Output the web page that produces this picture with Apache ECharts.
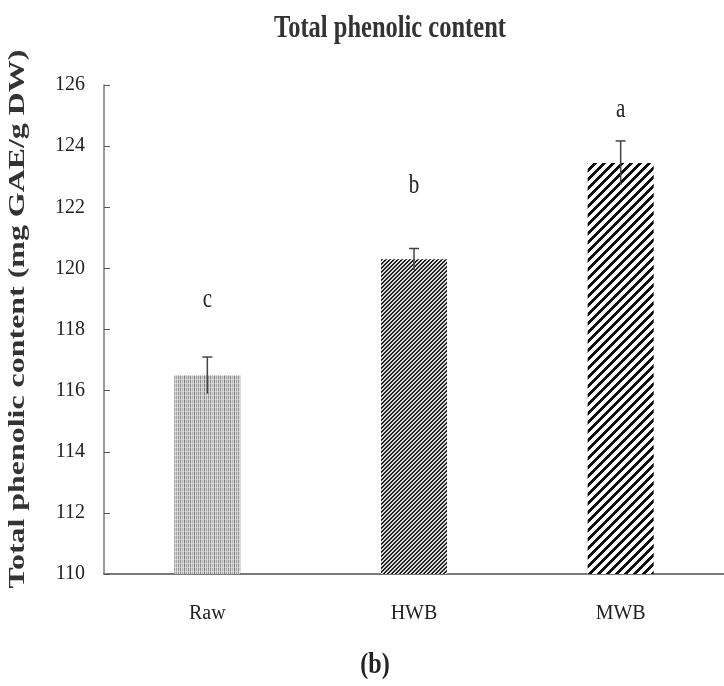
<!DOCTYPE html>
<html>
<head>
<meta charset="utf-8">
<script src="https://cdn.jsdelivr.net/npm/echarts@6/dist/echarts.min.js"></script>
<style>
html,body{margin:0;padding:0;background:#fff;}
#chart{width:724px;height:686px;}
</style>
</head>
<body>
<div id="chart"></div>
<script>
var categories = ['Raw', 'HWB', 'MWB'];
var values = [116.5, 120.3, 123.45];
var errors = [0.6, 0.35, 0.72];
var letters = ['c', 'b', 'a'];
var letterValues = [118.97, 122.7, 125.18];
var yTicks = [110, 112, 114, 116, 118, 120, 122, 124, 126];

var SERIF = '"Liberation Serif","Times New Roman",serif';

function rawPattern() {
  var c = document.createElement('canvas');
  c.width = 10; c.height = 4;
  var g = c.getContext('2d');
  g.fillStyle = '#d6d6d6'; g.fillRect(0, 0, 10, 4);
  var cols = [[0, '#8c8c8c'], [2, '#b4b4b4'], [4, '#7c7c7c'], [6, '#a6a6a6'], [8, '#959595']];
  cols.forEach(function (p) { g.fillStyle = p[1]; g.fillRect(p[0], 0, 1, 4); });
  g.fillStyle = 'rgba(255,255,255,0.35)'; g.fillRect(0, 3, 10, 1);
  return c;
}
// seamless "/" stripes: pixel is dark where (x+y) mod period < dark width
function diagPattern(period, dark, bg, fg) {
  var c = document.createElement('canvas');
  c.width = period; c.height = period;
  var g = c.getContext('2d');
  var img = g.createImageData(period, period);
  for (var y = 0; y < period; y++) {
    for (var x = 0; x < period; x++) {
      var ph = (x + y) % period;
      var t;
      if (ph < dark - 0.5) t = 1;
      else if (ph < dark + 0.5 && dark % 1 !== 0) t = 0.5;
      else t = 0;
      var col = [0, 1, 2].map(function (k) { return Math.round(bg[k] * (1 - t) + fg[k] * t); });
      var o = (y * period + x) * 4;
      img.data[o] = col[0]; img.data[o + 1] = col[1]; img.data[o + 2] = col[2]; img.data[o + 3] = 255;
    }
  }
  g.putImageData(img, 0, 0);
  return c;
}
var patterns = [
  { image: rawPattern(), repeat: 'repeat' },
  { image: diagPattern(4, 2, [220, 220, 220], [34, 34, 34]), repeat: 'repeat' },
  { image: diagPattern(9, 4, [255, 255, 255], [15, 15, 15]), repeat: 'repeat' }
];

var chart = echarts.init(document.getElementById('chart'));
chart.setOption({
  animation: false,
  backgroundColor: '#fff',
  grid: { left: 104, top: 85, width: 620, bottom: 112, containLabel: false },
  xAxis: {
    type: 'category',
    data: categories,
    axisLine: { lineStyle: { color: '#7a7a7a', width: 2 } },
    axisTick: { show: false },
    axisLabel: { fontFamily: SERIF, fontSize: 20, color: '#222', margin: 30 }
  },
  yAxis: {
    type: 'value',
    min: yTicks[0], max: yTicks[yTicks.length - 1], interval: 2,
    splitLine: { show: false },
    axisLine: { show: true, lineStyle: { color: '#7a7a7a', width: 1.5 } },
    axisTick: { show: true, inside: true, length: 6, lineStyle: { color: '#555' } },
    axisLabel: { fontFamily: SERIF, fontSize: 20, color: '#222', margin: 19 }
  },
  series: [
    {
      type: 'bar',
      barWidth: 66,
      data: values.map(function (v, i) { return { value: v, itemStyle: { color: patterns[i] } }; })
    },
    {
      type: 'custom',
      data: values.map(function (v, i) { return [i, v, errors[i]]; }),
      z: 5,
      renderItem: function (params, api) {
        var i = api.value(0), v = api.value(1), e = api.value(2);
        var top = api.coord([i, v + e]);
        var bot = api.coord([i, v - e]);
        var st = { stroke: '#444', lineWidth: 1.5 };
        return {
          type: 'group',
          children: [
            { type: 'line', shape: { x1: top[0], y1: top[1], x2: bot[0], y2: bot[1] }, style: st },
            { type: 'line', shape: { x1: top[0] - 5, y1: top[1], x2: top[0] + 5, y2: top[1] }, style: st }
          ]
        };
      }
    },
    {
      type: 'custom',
      data: letterValues.map(function (v, i) { return [i, v]; }),
      z: 6,
      renderItem: function (params, api) {
        var p = api.coord([api.value(0), api.value(1)]);
        return {
          type: 'text',
          x: p[0], y: p[1], scaleY: 1.25,
          style: {
            text: letters[params.dataIndex],
            font: '21px ' + SERIF,
            fill: '#222', textAlign: 'center', textVerticalAlign: 'middle'
          }
        };
      }
    }
  ],
  graphic: [
    {
      type: 'text', x: 390, y: 29, scaleY: 1.3,
      style: { text: 'Total phenolic content', font: 'bold 24.5px ' + SERIF, fill: '#333', textAlign: 'center', textVerticalAlign: 'middle' }
    },
    {
      type: 'text', x: 18, y: 319, rotation: Math.PI / 2, scaleX: 1.33,
      style: { text: 'Total phenolic content (mg GAE/g DW)', font: 'bold 24px ' + SERIF, fill: '#333', textAlign: 'center', textVerticalAlign: 'middle' }
    },
    {
      type: 'text', x: 375, y: 666, scaleY: 1.2,
      style: { text: '(b)', font: 'bold 24px ' + SERIF, fill: '#222', textAlign: 'center', textVerticalAlign: 'middle' }
    }
  ]
});
</script>
</body>
</html>
